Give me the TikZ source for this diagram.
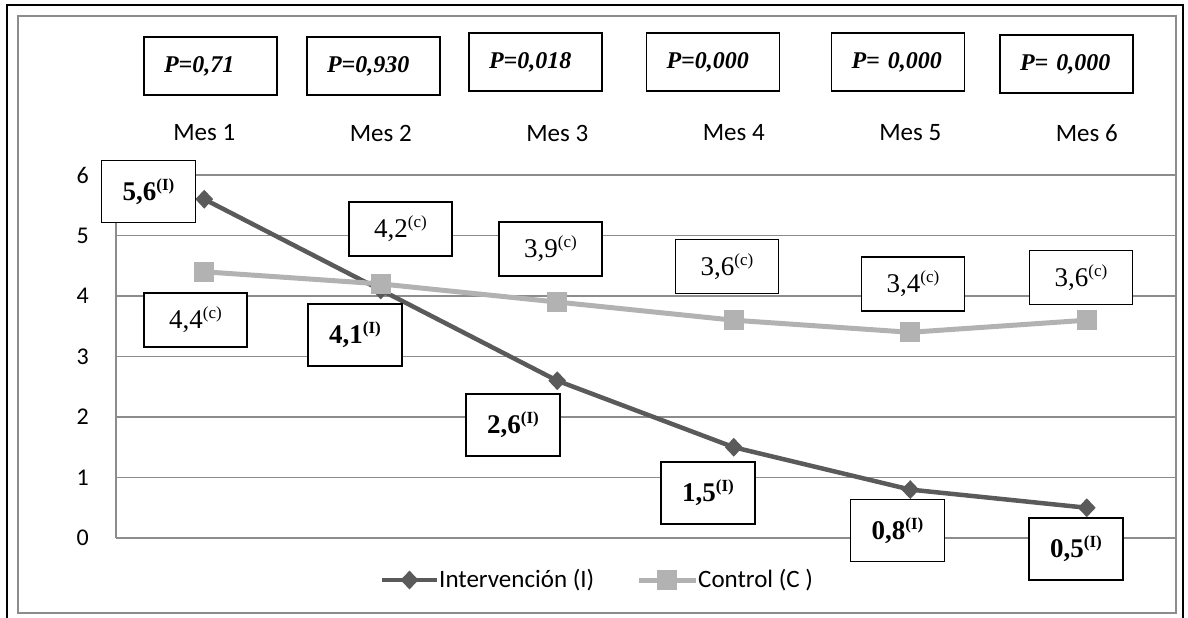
\documentclass[tikz,border=0pt]{standalone}
\usepackage{fontspec}
\setmainfont{Liberation Serif}
\newfontfamily\calib{Carlito}
\usetikzlibrary{shapes.geometric}
\definecolor{igrey}{HTML}{5A5A5A}
\definecolor{cgrey}{HTML}{B2B2B2}
\definecolor{gridc}{HTML}{8C8C8C}
\newcommand{\supx}[1]{\raisebox{10pt}{\fontsize{17}{17}\selectfont #1}}
\newcommand{\supb}[1]{\raisebox{10pt}{\fontsize{17}{17}\selectfont\bfseries #1}}
\begin{document}
\begin{tikzpicture}[x=1pt,y=-1pt,
  pbox/.style={draw=black, line width=1.4pt, fill=white, minimum height=58pt,
    text width=93pt, inner xsep=20pt, inner ysep=0pt, align=left,
    font=\fontsize{24}{26}\selectfont\bfseries\itshape},
  ibox/.style={draw=black, line width=1.4pt, fill=white, minimum width=94pt, minimum height=62pt,
    inner sep=0pt, font=\fontsize{27}{30}\selectfont\bfseries},
  cbox/.style={draw=black, line width=1.4pt, fill=white, minimum width=103pt, minimum height=54pt,
    inner sep=0pt, font=\fontsize{27}{30}\selectfont},
  mes/.style={font=\calib\fontsize{25}{28}\selectfont, inner sep=0pt},
  ylab/.style={font=\calib\fontsize{24}{26}\selectfont, inner sep=0pt, anchor=east},
  leg/.style={font=\calib\fontsize{25}{28}\selectfont, inner sep=0pt, anchor=west},
  grid/.style={draw=gridc, line width=1.4pt},
  iline/.style={draw=igrey, line width=4.5pt},
  cline/.style={draw=cgrey, line width=5pt},
  imark/.style={diamond, fill=igrey, minimum width=18pt, minimum height=19pt, inner sep=0pt},
  cmark/.style={rectangle, fill=cgrey, minimum size=20pt, inner sep=0pt}
]
\useasboundingbox (0,0) rectangle (1188,618);
% frames
\draw[line width=2pt] (7,5) rectangle (1183,630);
\draw[grid] (18,16) rectangle (1176,613);
% grid lines and y labels
\foreach \k in {0,...,6}{
  \draw[grid] (116,{538-60.5*\k}) -- (1175,{538-60.5*\k});
  \node[ylab] (y\k) at (89,{538-60.5*\k}) {\k};
}
\draw[grid] (116,175) -- (116,538);
% categories
\foreach \i in {1,...,6}{
  \node[mes] (m\i) at ({204.25+176.5*(\i-1)},133) {Mes \i};
}
% P boxes
\node[pbox] (p1) at (210.5,66) {P=0,71};
\node[pbox] (p2) at (373.5,66) {P=0,930};
\node[pbox] (p3) at (535.5,62) {P=0,018};
\node[pbox] (p4) at (713,62) {P=0,000};
\node[pbox] (p5) at (898,62) {P= 0,000};
\node[pbox] (p6) at (1066.5,64) {P= 0,000};
% data points
\foreach \i/\v in {1/5.6,2/4.1,3/2.6,4/1.5,5/0.8,6/0.5}{
  \coordinate (ic\i) at ({204.25+176.5*(\i-1)},{538-60.5*\v});
}
\foreach \i/\v in {1/4.4,2/4.2,3/3.9,4/3.6,5/3.4,6/3.6}{
  \coordinate (cc\i) at ({204.25+176.5*(\i-1)},{538-60.5*\v});
}
\draw[iline, line join=round] (ic1) -- (ic2) -- (ic3) -- (ic4) -- (ic5) -- (ic6);
\foreach \i in {1,...,6}{ \node[imark] (im\i) at (ic\i) {}; }
\draw[cline, line join=round] (cc1) -- (cc2) -- (cc3) -- (cc4) -- (cc5) -- (cc6);
\foreach \i in {1,...,6}{ \node[cmark] (cm\i) at (cc\i) {}; }
% value boxes
\node[ibox] (vi1) at (148.5,191.5) {5,6\supb{(I)}};
\node[ibox] (vi2) at (355,335) {4,1\supb{(I)}};
\node[ibox] (vi3) at (513,425) {2,6\supb{(I)}};
\node[ibox] (vi4) at (708,493) {1,5\supb{(I)}};
\node[ibox] (vi5) at (897.5,530.5) {0,8\supb{(I)}};
\node[ibox] (vi6) at (1076,549) {0,5\supb{(I)}};
\node[cbox] (vc1) at (195.5,320) {4,4\supx{(c)}};
\node[cbox] (vc2) at (400.5,229) {4,2\supx{(c)}};
\node[cbox] (vc3) at (550.5,249) {3,9\supx{(c)}};
\node[cbox] (vc4) at (727,266.5) {3,6\supx{(c)}};
\node[cbox] (vc5) at (913,284) {3,4\supx{(c)}};
\node[cbox] (vc6) at (1081,277.5) {3,6\supx{(c)}};
% legend
\coordinate (la1) at (382,580); \coordinate (lb1) at (437,580);
\draw[iline] (la1) -- (lb1);
\node[imark] (lm1) at (409.5,580) {};
\node[leg] (lt1) at (439,580) {Intervención (I)};
\coordinate (la2) at (639,580); \coordinate (lb2) at (696,580);
\draw[cline] (la2) -- (lb2);
\node[cmark] (lm2) at (667,580) {};
\node[leg] (lt2) at (698,580) {Control (C )};
\end{tikzpicture}
\end{document}
